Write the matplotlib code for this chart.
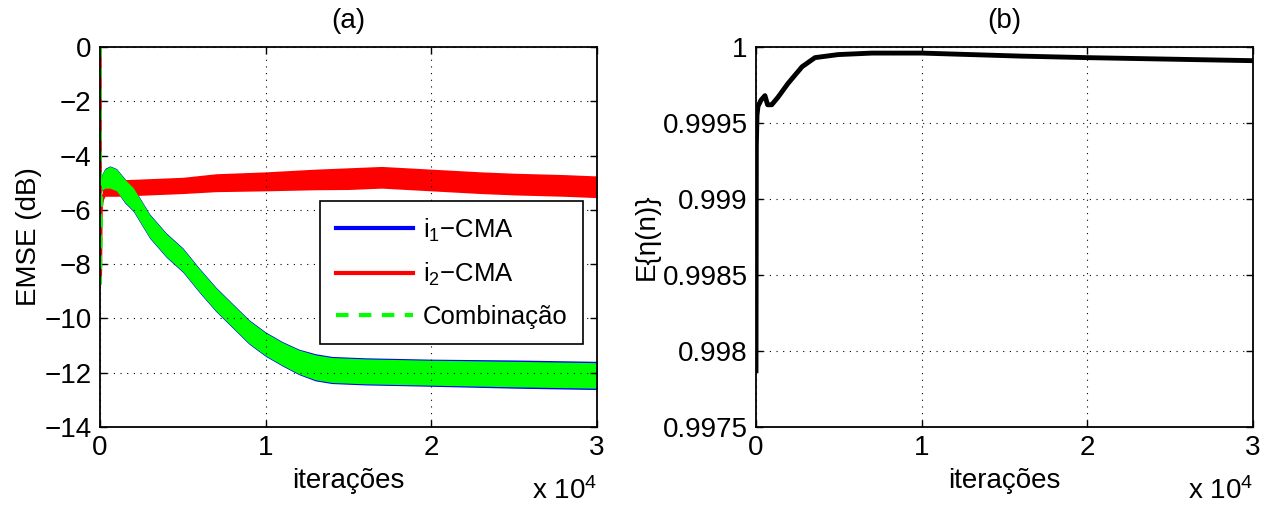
import numpy as np
import matplotlib
matplotlib.use('Agg')
import matplotlib.pyplot as plt
from matplotlib.lines import Line2D

plt.rcParams['font.family'] = ['Liberation Sans', 'DejaVu Sans']
plt.rcParams['mathtext.fontset'] = 'custom'
plt.rcParams['mathtext.rm'] = 'Liberation Sans'
plt.rcParams['mathtext.it'] = 'Liberation Sans:italic'
plt.rcParams['axes.unicode_minus'] = True

# (a) EMSE curves: centre of the noisy band and its half width (dB)
it_i1 = [0, 15, 100, 300, 600, 1000, 1500, 2000, 3000, 4000, 5000, 6000, 7000, 8000,
         9000, 10000, 11000, 12000, 13000, 14000, 16000, 20000, 25000, 30000]
emse_i1 = [0, -8.7, -5.0, -4.85, -4.8, -4.9, -5.3, -5.6, -6.6, -7.3, -7.85, -8.6, -9.3,
           -9.9, -10.5, -10.95, -11.3, -11.6, -11.8, -11.9, -11.95, -12.0, -12.05, -12.1]
hw_i1 = [0, 0, 0.3, 0.38, 0.42, 0.42, 0.45, 0.45, 0.45, 0.45, 0.45, 0.45, 0.45, 0.45,
         0.45, 0.45, 0.45, 0.47, 0.5, 0.5, 0.5, 0.5, 0.52, 0.52]
hw_comb = [0, 0, 0.28, 0.35, 0.4, 0.4, 0.42, 0.42, 0.42, 0.42, 0.42, 0.42, 0.42, 0.42,
           0.42, 0.42, 0.42, 0.44, 0.46, 0.46, 0.46, 0.46, 0.47, 0.47]

it_i2 = [0, 15, 60, 150, 300, 1000, 3000, 5000, 7000, 10000, 13000, 15000, 17000,
         20000, 23000, 25000, 28000, 30000]
emse_i2 = [0, -8.7, -6.0, -5.5, -5.2, -5.2, -5.15, -5.1, -5.0, -4.95, -4.88, -4.85,
           -4.8, -4.9, -5.0, -5.05, -5.1, -5.15]
hw_i2 = [0, 0, 0.1, 0.2, 0.3, 0.3, 0.3, 0.3, 0.33, 0.35, 0.38, 0.4, 0.4, 0.4,
         0.4, 0.4, 0.4, 0.4]

# (b) E{eta(n)}
it_eta = [0, 20, 60, 120, 300, 540, 700, 950, 1330, 1930, 2780, 3560, 4950, 7000,
          10000, 13000, 16000, 20000, 25000, 30000]
eta = [0.99787, 0.99935, 0.99955, 0.99961, 0.99965, 0.99968, 0.99962, 0.99962, 0.99967,
       0.99976, 0.99987, 0.99993, 0.99995, 0.99996, 0.99996, 0.99995, 0.99994, 0.99993,
       0.99992, 0.99991]

fs = 20
fig = plt.figure(figsize=(12.83, 5.08), dpi=100)
ax1 = fig.add_axes([100 / 1283, 81 / 508, 497 / 1283, 380 / 508])
ax2 = fig.add_axes([756 / 1283, 81 / 508, 497 / 1283, 380 / 508])


def band(ax, x, c, hw, color):
    x = np.array(x)
    c = np.array(c)
    hw = np.array(hw)
    ax.fill_between(x, c - hw, c + hw, color=color, lw=0)


# left panel
band(ax1, it_i1, emse_i1, hw_i1, 'blue')
band(ax1, it_i2, emse_i2, hw_i2, 'red')
ax1.plot(it_i2[:4], emse_i2[:4], color='red', lw=2.5)
band(ax1, it_i1, emse_i1, hw_comb, '#00ff00')
ax1.plot(it_i1[:4], emse_i1[:4], color='#00ff00', lw=2.5, ls=(0, (3, 3)))

ax1.set_xlim(0, 30000)
ax1.set_ylim(-14, 0)
ax1.set_yticks(np.arange(-14, 1, 2))
ax1.set_title('(a)', fontsize=fs, pad=14)
ax1.set_ylabel('EMSE (dB)', fontsize=fs, labelpad=2)

handles = [Line2D([], [], color='blue', lw=3),
           Line2D([], [], color='red', lw=3),
           Line2D([], [], color='#00ff00', lw=3, ls=(0, (3, 2.5)))]
labels = ['i$_1$\u2212CMA', 'i$_2$\u2212CMA', 'Combinação']
leg = ax1.legend(handles, labels, loc='lower left', bbox_to_anchor=(0.443, 0.218),
                 fontsize=18.5, handlelength=3.0, fancybox=False, framealpha=1,
                 edgecolor='black', borderpad=0.6, labelspacing=0.66, handletextpad=0.4,
                 borderaxespad=0)
leg.get_frame().set_linewidth(1.2)

# right panel
ax2.plot(it_eta, eta, color='black', lw=3.5)
ax2.set_xlim(0, 30000)
ax2.set_ylim(0.9975, 1.0)
yt = [0.9975, 0.998, 0.9985, 0.999, 0.9995, 1.0]
ax2.set_yticks(yt)
ax2.set_yticklabels(['0.9975', '0.998', '0.9985', '0.999', '0.9995', '1'])
ax2.set_title('(b)', fontsize=fs, pad=14)
ax2.set_ylabel('E{η(n)}', fontsize=fs, labelpad=2)

for ax in (ax1, ax2):
    ax.set_xticks([0, 10000, 20000, 30000])
    ax.set_xticklabels(['0', '1', '2', '3'])
    ax.set_xlabel('iterações', fontsize=fs, labelpad=5)
    ax.text(1.0, -0.19, 'x 10$^4$', transform=ax.transAxes, ha='right', va='baseline',
            fontsize=fs)
    ax.tick_params(direction='in', length=5, width=1, labelsize=fs, top=True, right=True,
                   pad=6)
    ax.grid(True, color='black', ls=(0, (1, 5)), lw=0.8)
    for s in ax.spines.values():
        s.set_linewidth(1.3)

fig.savefig('out.png', dpi=100)
